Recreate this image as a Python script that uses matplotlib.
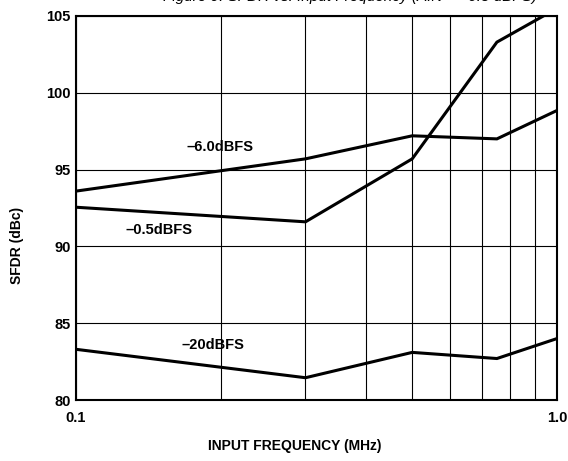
import numpy as np
import matplotlib
matplotlib.use('Agg')
import matplotlib.pyplot as plt
from matplotlib.ticker import FixedLocator, NullFormatter

# input frequency (MHz)
freq = [0.1, 0.3, 0.5, 0.75, 1.0]

# SFDR (dBc) for each input level
sfdr_m6 = [93.6, 95.7, 97.2, 97.0, 98.85]
sfdr_m05 = [92.55, 91.6, 95.7, 103.3, 105.5]
sfdr_m20 = [83.3, 81.45, 83.1, 82.7, 84.0]

series_labels = ['\u20136.0dBFS', '\u20130.5dBFS', '\u201320dBFS']
label_pos = [(0.199, 96.5), (0.1485, 91.05), (0.193, 83.55)]

y_ticks = [80, 85, 90, 95, 100, 105]
x_ticks = [0.1, 1.0]
x_tick_labels = ['0.1', '1.0']
x_minor = [0.2, 0.3, 0.4, 0.5, 0.6, 0.7, 0.8, 0.9]

plt.rcParams['font.family'] = ['Liberation Sans', 'DejaVu Sans']

fig = plt.figure(figsize=(5.68, 4.61), dpi=100)
ax = fig.add_axes([76 / 568, 1 - 400 / 461, 481 / 568, 384 / 461])

ax.set_xscale('log')
ax.set_xlim(0.1, 1.0)
ax.set_ylim(80, 105)

for vals in (sfdr_m6, sfdr_m05, sfdr_m20):
    ax.plot(freq, vals, color='black', linewidth=2.2, solid_joinstyle='miter', zorder=3)

for text, (x, y) in zip(series_labels, label_pos):
    ax.text(x, y, text, fontsize=10.5, fontweight='bold', ha='center', va='center', zorder=4)

ax.xaxis.set_major_locator(FixedLocator(x_ticks))
ax.set_xticklabels(x_tick_labels)
ax.xaxis.set_minor_locator(FixedLocator(x_minor))
ax.xaxis.set_minor_formatter(NullFormatter())
ax.set_yticks(y_ticks)

ax.grid(True, which='both', axis='x', color='black', linewidth=0.8)
ax.grid(True, which='major', axis='y', color='black', linewidth=0.8)

ax.tick_params(axis='both', which='both', length=0)
ax.tick_params(axis='y', pad=4, labelsize=10.5)
ax.tick_params(axis='x', pad=8, labelsize=10.5)
for lbl in ax.get_xticklabels() + ax.get_yticklabels():
    lbl.set_fontweight('bold')

for sp in ax.spines.values():
    sp.set_linewidth(1.5)

fig.text(295 / 568, 1 - 446 / 461, 'INPUT FREQUENCY (MHz)', fontsize=10, fontweight='bold',
         ha='center', va='center')
fig.text(17 / 568, 1 - 245 / 461, 'SFDR (dBc)', fontsize=10, fontweight='bold',
         rotation=90, ha='center', va='center')

# caption of the figure: cut by the crop, only the descenders show
fig.text(537 / 568, 1 - 1.5 / 461, 'Figure 9. SFDR vs. Input Frequency (AIN = \u20130.5 dBFS)',
         fontsize=11, style='italic', ha='right', va='baseline')

fig.savefig('out.png', dpi=100)
